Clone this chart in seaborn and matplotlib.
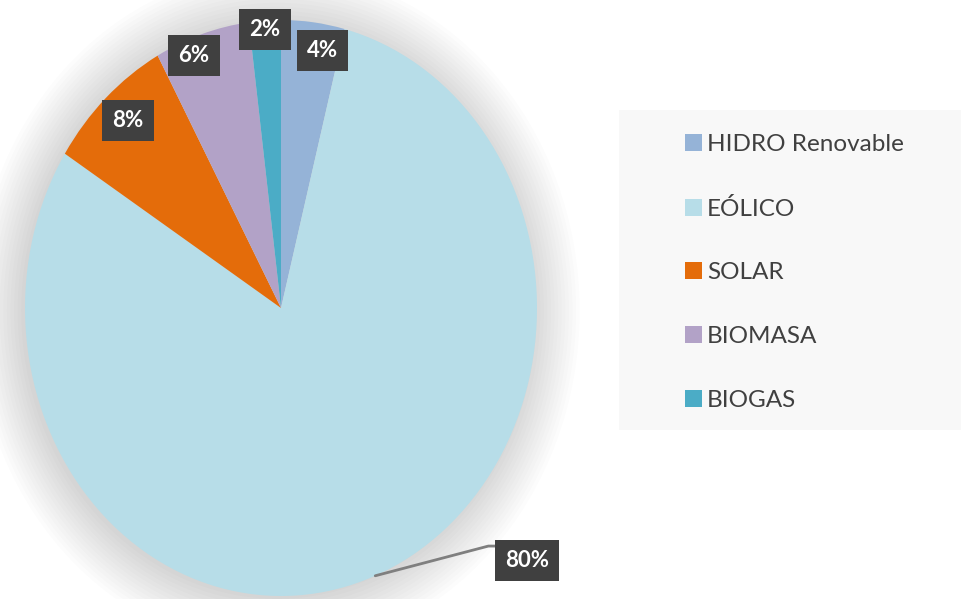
import numpy as np
import matplotlib
matplotlib.use("Agg")
import matplotlib.pyplot as plt
from matplotlib.patches import Ellipse, Rectangle
import seaborn as sns

# data
categories = ["HIDRO Renovable", "EÓLICO", "SOLAR", "BIOMASA", "BIOGAS"]
shares = [4, 80, 8, 6, 2]
colors = ["#95B3D7", "#B7DDE8", "#E46C0A", "#B2A2C7", "#4BACC6"]

sns.set_style("white")
plt.rcParams['font.family'] = ['Lato', 'DejaVu Sans']

fig = plt.figure(figsize=(9.62, 5.99), dpi=100)
ax = fig.add_axes([25 / 962, 3 / 599, 512 / 962, 576 / 599])

# soft shadow round the pie
for k in range(14):
    s = 2 + 0.014 * k * 2
    ax.add_patch(Ellipse((-0.015, -0.01), s, s, facecolor="black",
                         edgecolor="none", alpha=0.012, zorder=0, clip_on=False))

palette = sns.color_palette(colors)
wedges, _ = ax.pie(shares, colors=palette, startangle=90, counterclock=False,
                   wedgeprops=dict(linewidth=0, clip_on=False), radius=1)
for w in wedges:
    w.set_zorder(2)
ax.set_aspect("auto")
ax.set_xlim(-1, 1)
ax.set_ylim(-1, 1)
ax.axis("off")

# label placement (radius, clockwise offset in degrees from wedge middle)
label_place = [(0.91, 3.0), (1.30, -26.0), (0.885, 0.7), (0.94, -3.2), (0.97, -0.1)]

box = dict(boxstyle="square,pad=0.45", facecolor="#404040", edgecolor="none")
for w, v, (r, off) in zip(wedges, shares, label_place):
    m = np.deg2rad((w.theta1 + w.theta2) / 2)
    a = m - np.deg2rad(off)
    x, y = r * np.cos(a), r * np.sin(a)
    if r > 1.1:
        ex, ey = np.cos(m), np.sin(m)
        ax.plot([ex, x - 0.15, x - 0.11], [ey, y + 0.05, y + 0.05],
                color="#7f7f7f", lw=2, zorder=3, clip_on=False)
    ax.text(x, y, f"{v}%", ha="center", va="center", color="white",
            fontsize=16, fontweight="bold", bbox=box, zorder=5, clip_on=False)

# legend background
fig.patches.append(Rectangle((619 / 962, 1 - 430 / 599), 343 / 962, 320 / 599,
                             transform=fig.transFigure, facecolor="#f8f8f8",
                             edgecolor="none", zorder=0))

leg = fig.legend(wedges, categories, loc="upper left",
                 bbox_to_anchor=(663 / 962, 1 - 112 / 599), frameon=False,
                 fontsize=17.5, labelspacing=1.76, handlelength=0.7,
                 handleheight=0.7, handletextpad=0.2, labelcolor="#404040")

fig.savefig("out.png", dpi=100)
